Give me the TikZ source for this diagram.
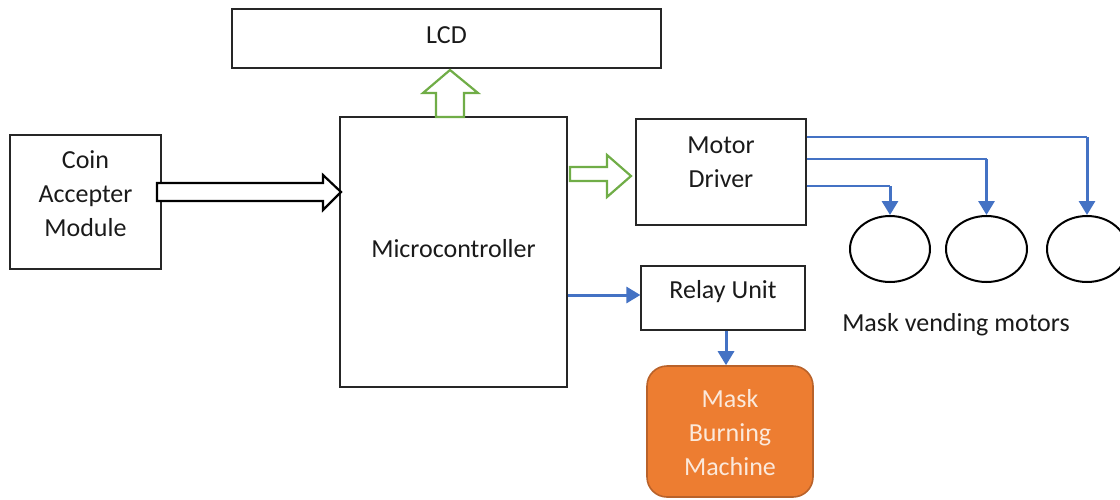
\documentclass[tikz,border=0pt]{standalone}
\usepackage{fontspec}
\setmainfont{Carlito}
\usetikzlibrary{arrows.meta,shapes.geometric,calc}
\definecolor{txtc}{HTML}{1A1A1A}
\definecolor{grn}{HTML}{70AD47}
\definecolor{blu}{HTML}{4472C4}
\definecolor{org}{HTML}{ED7D31}
\definecolor{orgd}{HTML}{B9622A}
\definecolor{orgt}{HTML}{FBE9DB}
\tikzset{
  box/.style={draw=black!85,line width=0.6pt,rectangle,inner sep=0pt},
  txt/.style={text=txtc,font=\fontsize{13pt}{17pt}\selectfont,align=center,inner sep=0pt},
  motor/.style={draw=black,line width=1pt,ellipse,inner sep=0pt,minimum width=40pt,minimum height=33pt},
  bthin/.style={draw=blu,line width=0.75pt},
  barrow/.style={draw=blu,line width=1.5pt,-{Triangle[width=8pt,length=7pt]}},
  blockblack/.style={draw=black,line width=1.1pt,fill=white,line join=miter},
  blockgreen/.style={draw=grn,line width=1.1pt,fill=white,line join=miter},
}
\begin{document}
\begin{tikzpicture}[x=0.5pt,y=-0.5pt]
\useasboundingbox (0,0) rectangle (1120,499);
\clip (0,0) rectangle (1120,499);
% boxes
\node[box,minimum width=214.5pt,minimum height=29.5pt] (lcd) at (446.5,38.5) {};
\node[txt] at (446.5,35) {LCD};
\node[box,minimum width=113.5pt,minimum height=135pt] (mc) at (453.5,252) {};
\node[txt] at (453.5,249) {Microcontroller};
\node[box,minimum width=75.5pt,minimum height=67pt] (coin) at (85.5,202) {};
\node[txt] at (85.5,194) {Coin\\Accepter\\Module};
\node[box,minimum width=85pt,minimum height=53pt] (md) at (721,172) {};
\node[txt] at (721,162) {Motor\\Driver};
\node[box,minimum width=82pt,minimum height=32pt] (relay) at (723,298) {};
\node[txt] at (723,292) {Relay Unit};
\node[draw=orgd,fill=org,line width=0.8pt,rounded corners=10pt,minimum width=83pt,minimum height=65.5pt,inner sep=0pt] (mbm) at (730,431.5) {};
\node[txt,text=orgt] at (730,433) {Mask\\Burning\\Machine};
% motors
\node[motor] (m1) at (890,249) {};
\node[motor,minimum width=40.5pt] (m2) at (986.5,249) {};
\node[motor] (m3) at (1087,249) {};
\node[txt] at (956,325) {Mask vending motors};
% block arrows
\draw[blockblack] (157,183) -- (323,183) -- (323,175) -- (341,192) -- (323,210) -- (323,201) -- (157,201) -- cycle;
\draw[blockgreen] (436,117) -- (436,93) -- (423,93) -- (450,70) -- (478,93) -- (464,93) -- (464,117) -- cycle;
\draw[blockgreen] (570,167) -- (607,167) -- (607,155) -- (631,176) -- (607,197) -- (607,181) -- (570,181) -- cycle;
% motor driver lines
\coordinate (o1) at ([yshift=17.5pt]md.east);
\coordinate (o2) at ([yshift=6.5pt]md.east);
\coordinate (o3) at ([yshift=-7pt]md.east);
\draw[bthin] (o1) -- (o1 -| m3.north);
\draw[barrow] (o1 -| m3.north) -- (m3.north);
\draw[bthin] (o2) -- (o2 -| m2.north);
\draw[barrow] (o2 -| m2.north) -- (m2.north);
\draw[bthin] (o3) -- (o3 -| m1.north);
\draw[barrow] (o3 -| m1.north) -- (m1.north);
% relay arrows
\coordinate (ra) at ([yshift=-21.5pt]mc.east);
\draw[barrow] (ra) -- (ra -| relay.west);
\coordinate (rb) at ([xshift=1.5pt]relay.south);
\draw[barrow] (rb) -- (rb |- mbm.north);
\end{tikzpicture}
\end{document}
